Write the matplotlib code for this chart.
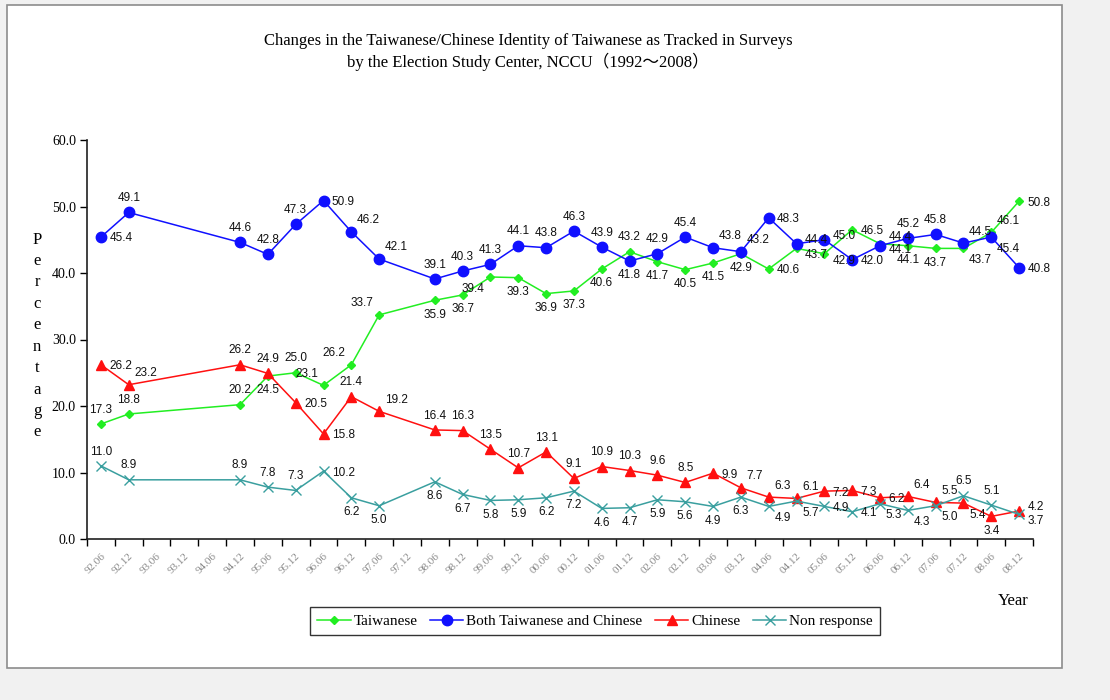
import numpy as np
import matplotlib
matplotlib.use('Agg')
import matplotlib.pyplot as plt
from matplotlib.patches import Rectangle

# x axis categories (half-year periods)
periods = ['92.06', '92.12', '93.06', '93.12', '94.06', '94.12', '95.06', '95.12',
           '96.06', '96.12', '97.06', '97.12', '98.06', '98.12', '99.06', '99.12',
           '00.06', '00.12', '01.06', '01.12', '02.06', '02.12', '03.06', '03.12',
           '04.06', '04.12', '05.06', '05.12', '06.06', '06.12', '07.06', '07.12',
           '08.06', '08.12']

# periods with a survey
surveys = ['92.06', '92.12', '94.12', '95.06', '95.12', '96.06', '96.12', '97.06',
           '98.06', '98.12', '99.06', '99.12', '00.06', '00.12', '01.06', '01.12',
           '02.06', '02.12', '03.06', '03.12', '04.06', '04.12', '05.06', '05.12',
           '06.06', '06.12', '07.06', '07.12', '08.06', '08.12']

taiwanese = [17.3, 18.8, 20.2, 24.5, 25.0, 23.1, 26.2, 33.7,
             35.9, 36.7, 39.4, 39.3, 36.9, 37.3, 40.6, 43.2,
             41.7, 40.5, 41.5, 42.9, 40.6, 43.7, 42.9, 46.5,
             44.4, 44.1, 43.7, 43.7, 46.1, 50.8]
both = [45.4, 49.1, 44.6, 42.8, 47.3, 50.9, 46.2, 42.1,
        39.1, 40.3, 41.3, 44.1, 43.8, 46.3, 43.9, 41.8,
        42.9, 45.4, 43.8, 43.2, 48.3, 44.4, 45.0, 42.0,
        44.1, 45.2, 45.8, 44.5, 45.4, 40.8]
chinese = [26.2, 23.2, 26.2, 24.9, 20.5, 15.8, 21.4, 19.2,
           16.4, 16.3, 13.5, 10.7, 13.1, 9.1, 10.9, 10.3,
           9.6, 8.5, 9.9, 7.7, 6.3, 6.1, 7.2, 7.3,
           6.2, 6.4, 5.5, 5.4, 3.4, 4.2]
nonresp = [11.0, 8.9, 8.9, 7.8, 7.3, 10.2, 6.2, 5.0,
           8.6, 6.7, 5.8, 5.9, 6.2, 7.2, 4.6, 4.7,
           5.9, 5.6, 4.9, 6.3, 4.9, 5.7, 4.9, 4.1,
           5.3, 4.3, 5.0, 6.5, 5.1, 3.7]

# where each data label sits relative to its point
pos_tw = ['a', 'a', 'a', 'b', 'a', 'al', 'al', 'al',
          'b', 'b', 'bl', 'b', 'b', 'b', 'b', 'a',
          'b', 'b', 'b', 'b', 'r', 'rd', 'rd', 'r',
          'ru2', 'b', 'b', 'br', 'ar', 'r']
pos_both = ['r', 'a', 'a', 'a', 'a', 'r', 'ar', 'ar',
            'a', 'a', 'a', 'a', 'a', 'a', 'a', 'b',
            'a', 'a', 'ar', 'ar', 'r', 'ru', 'ru', 'r',
            'rd2', 'a', 'a', 'ar', 'br', 'r']
pos_ch = ['r', 'ar', 'a', 'a', 'r', 'r', 'a', 'ar',
          'a', 'a', 'a', 'a', 'a', 'a', 'a', 'a',
          'a', 'a', 'r', 'ar', 'ar', 'ar', 'r', 'r',
          'r', 'ar', 'ar', 'br', 'b', 'ru']
pos_nr = ['a', 'a', 'a', 'a', 'a', 'r', 'b', 'b',
          'b', 'b', 'b', 'b', 'b', 'b', 'b', 'b',
          'b', 'b', 'b', 'b', 'br', 'br', 'r', 'r',
          'br', 'br', 'br', 'a', 'a', 'rd']

offsets = {
    'r': (6, -1, 'left', 'center'),
    'ru': (6, 3, 'left', 'center'),
    'rd': (6, -5, 'left', 'center'),
    'ru2': (6, 5, 'left', 'center'),
    'rd2': (6, -3, 'left', 'center'),
    'a': (0, 6, 'center', 'bottom'),
    'b': (0, -6, 'center', 'top'),
    'ar': (4, 4, 'left', 'bottom'),
    'al': (-4, 4, 'right', 'bottom'),
    'br': (4, -4, 'left', 'top'),
    'bl': (-4, -4, 'right', 'top'),
}

x = np.array([periods.index(s) for s in surveys])

fig = plt.figure(figsize=(11.1, 7), dpi=100)
fig.patch.set_facecolor('#f1f1f1')

# white chart area with grey border
fig.patches.append(Rectangle((7 / 1110, 1 - 668 / 700), 1055 / 1110, 663 / 700,
                             transform=fig.transFigure, facecolor='white',
                             edgecolor='#8c8c8c', linewidth=1.2, zorder=-5))

ax = fig.add_axes([87 / 1110, 1 - 539 / 700, 946 / 1110, 399 / 700])
ax.set_zorder(2)
ax.patch.set_alpha(0)

series = [
    ('Taiwanese', taiwanese, pos_tw, '#22ee22', 'D', 4.2, 1.0),
    ('Both Taiwanese and Chinese', both, pos_both, '#1010ff', 'o', 7.5, 1.0),
    ('Chinese', chinese, pos_ch, '#ff1010', '^', 7.5, 1.0),
    ('Non response', nonresp, pos_nr, '#3a9f9f', 'x', 7, 1.0),
]

for name, vals, pos, col, mk, ms, mew in series:
    ax.plot(x, vals, color=col, marker=mk, markersize=ms, markeredgewidth=mew,
            linewidth=1.1, label=name, zorder=3)
    for xi, v, p in zip(x, vals, pos):
        dx, dy, ha, va = offsets[p]
        ax.annotate('%.1f' % v, (xi, v), xytext=(dx, dy), textcoords='offset points',
                    ha=ha, va=va, fontsize=8.5, family='Liberation Sans',
                    color='#111111', zorder=4)

ax.set_xlim(-0.5, len(periods) - 0.5)
ax.set_ylim(0, 60)
ax.set_yticks(np.arange(0, 61, 10))
ax.set_yticklabels(['%.1f' % t for t in np.arange(0, 61, 10)],
                   family='Liberation Serif', fontsize=10)
ax.tick_params(axis='y', direction='out', length=5, width=1, pad=3)

# category ticks between periods, labels at centres
ax.set_xticks(np.arange(-0.5, len(periods), 1), minor=True)
ax.set_xticks(np.arange(len(periods)))
ax.set_xticklabels(periods, rotation=45, ha='right', rotation_mode='anchor',
                   family='Liberation Serif', fontsize=8, color='#8a8a8a')
ax.tick_params(axis='x', which='major', length=0, pad=9)
ax.tick_params(axis='x', which='minor', direction='out', length=5, width=1)

for s in ['top', 'right']:
    ax.spines[s].set_visible(False)
for s in ['left', 'bottom']:
    ax.spines[s].set_color('#202020')
    ax.spines[s].set_linewidth(1.2)

fig.text(528 / 1110, 1 - 41 / 700,
         'Changes in the Taiwanese/Chinese Identity of Taiwanese as Tracked in Surveys',
         ha='center', va='center', family='Liberation Serif', fontsize=12)
fig.text(528 / 1110, 1 - 62 / 700,
         'by the Election Study Center, NCCU\uff081992\uff5e2008\uff09',
         ha='center', va='center', family=['Liberation Serif', 'Noto Sans CJK TC'],
         fontsize=12)

# vertical axis title, one letter per line
fig.text(37 / 1110, 1 - 336 / 700, '\n'.join('Percentage'), ha='center', va='center',
         family='Liberation Serif', fontsize=12, linespacing=1.45)
fig.text(1013 / 1110, 1 - 601 / 700, 'Year', ha='center', va='center',
         family='Liberation Serif', fontsize=12)

leg = fig.legend(loc='center', bbox_to_anchor=(595 / 1110, 1 - 621 / 700), ncol=4,
                 frameon=True, fancybox=False, prop={'family': 'Liberation Serif', 'size': 11},
                 handlelength=2.2, columnspacing=0.8, handletextpad=0.2,
                 borderpad=0.45)
leg.get_frame().set_edgecolor('black')
leg.get_frame().set_linewidth(1.0)

fig.savefig('out.png', dpi=100, facecolor=fig.get_facecolor())
